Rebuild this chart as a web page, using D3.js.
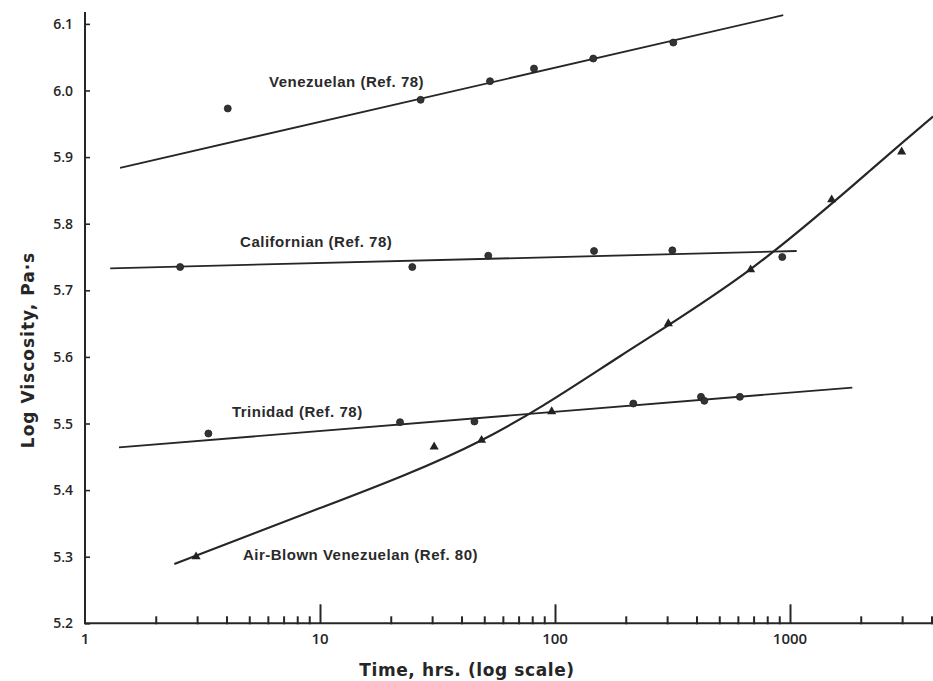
<!DOCTYPE html>
<html><head><meta charset="utf-8">
<script src="https://cdn.jsdelivr.net/npm/d3@7"></script>
<style>
html,body{margin:0;padding:0;background:#fff;}
svg{display:block;}
</style></head>
<body>
<svg id="chart" width="933" height="681"></svg>
<script>
// ---- data ----
const yTicks = [5.2, 5.3, 5.4, 5.5, 5.6, 5.7, 5.8, 5.9, 6.0, 6.1];
const xMajorTicks = [1, 10, 100, 1000];
const xMinorTicks = [2,3,4,5,6,7,8,9,20,30,40,50,60,70,80,90,200,300,400,500,600,700,800,900,2000,3000,4000];

const venezuelanT = [4.05, 26.8, 52.9, 81.4, 145.5, 318.8];
const venezuelanV = [5.973, 5.986, 6.014, 6.033, 6.048, 6.072];
const venezuelanFitT = [1.41, 936];
const venezuelanFitV = [5.884, 6.113];

const californianT = [2.54, 24.7, 52, 146.6, 315.7, 927];
const californianV = [5.735, 5.735, 5.752, 5.759, 5.760, 5.750];
const californianFitT = [1.28, 1067];
const californianFitV = [5.733, 5.759];

const trinidadT = [3.35, 21.9, 45.4, 215.4, 418, 432, 612];
const trinidadV = [5.485, 5.502, 5.503, 5.530, 5.540, 5.534, 5.540];
const trinidadFitT = [1.395, 1841];
const trinidadFitV = [5.464, 5.554];

const airBlownT = [2.97, 30.6, 48.7, 96.8, 303.6, 680, 1504, 2986];
const airBlownV = [5.300, 5.465, 5.475, 5.518, 5.650, 5.731, 5.836, 5.908];
const airBlownCurveT = [2.4, 10, 48.7, 189, 687, 2228, 4064];
const airBlownCurveV = [5.289, 5.373, 5.475, 5.601, 5.733, 5.882, 5.961];

const seriesLabels = [
  {text: "Venezuelan (Ref. 78)", t: 6.07, v: 6.005},
  {text: "Californian (Ref. 78)", t: 4.57, v: 5.765},
  {text: "Trinidad (Ref. 78)", t: 4.22, v: 5.510},
  {text: "Air-Blown Venezuelan (Ref. 80)", t: 4.70, v: 5.295}
];
const xTitle = "Time, hrs. (log scale)";
const yTitle = "Log Viscosity, Pa·s";

// ---- drawing ----
const svg = d3.select("#chart");
const ink = "#262626";
const x0 = 85, yBase = 623.3, yTop = 12, decade = 235;
const x = d3.scaleLog().domain([1, 10000]).range([x0, x0 + 4 * decade]);
const y = d3.scaleLinear().domain([5.2, 6.2]).range([yBase, yBase - 10 * 66.6]);

svg.append("defs").append("clipPath").attr("id", "c")
  .append("rect").attr("x", 0).attr("y", 0).attr("width", 933).attr("height", 681);

// x axis (ticks pointing inward / upward)
const xAxisG = svg.append("g").attr("transform", `translate(0,${yBase})`);
xAxisG.append("line").attr("x1", x0).attr("x2", 933).attr("y1", 0).attr("y2", 0)
  .attr("stroke", ink).attr("stroke-width", 2);
const xMinorAxis = d3.axisTop(x).tickValues(xMinorTicks).tickSize(7).tickFormat("");
const xMajorAxis = d3.axisTop(x).tickValues(xMajorTicks.slice(1)).tickSize(19).tickFormat("");
xAxisG.append("g").call(xMinorAxis).call(g => g.select(".domain").remove())
  .selectAll("line").attr("stroke", ink).attr("stroke-width", 2).attr("y1", 1);
xAxisG.append("g").call(xMajorAxis).call(g => g.select(".domain").remove())
  .selectAll("line").attr("stroke", ink).attr("stroke-width", 2);
// x tick labels
svg.append("g").selectAll("text").data(xMajorTicks).join("text")
  .attr("x", d => x(d)).attr("y", 644)
  .attr("text-anchor", "middle")
  .attr("font-family", "'Open Sans', 'DejaVu Sans', sans-serif")
  .attr("font-size", 15).attr("font-weight", 600).attr("fill", ink)
  .text(d => d3.format("d")(d));

// y axis
const yAxis = d3.axisRight(y).tickValues(yTicks).tickSize(5).tickFormat("");
const yAxisG = svg.append("g").attr("transform", `translate(${x0},0)`).call(yAxis);
yAxisG.select(".domain").remove();
yAxisG.selectAll("line").attr("stroke", ink).attr("stroke-width", 1.6);
yAxisG.append("line").attr("x1", 0).attr("x2", 0).attr("y1", yTop).attr("y2", yBase + 1)
  .attr("stroke", ink).attr("stroke-width", 2);
svg.append("g").selectAll("text").data(yTicks).join("text")
  .attr("x", 73).attr("y", d => y(d)).attr("dy", "0.36em")
  .attr("text-anchor", "end")
  .attr("font-family", "'Open Sans', 'DejaVu Sans', sans-serif")
  .attr("font-size", 14).attr("font-weight", 600).attr("fill", ink)
  .text(d => d3.format(".1f")(d));

// titles
svg.append("text").attr("x", 467).attr("y", 676).attr("text-anchor", "middle")
  .attr("font-family", "'DejaVu Sans', sans-serif").attr("font-weight", "bold")
  .attr("font-size", 17).attr("letter-spacing", 0.6).attr("fill", ink).text(xTitle);
svg.append("text").attr("transform", "translate(34,350) rotate(-90)").attr("text-anchor", "middle")
  .attr("font-family", "'DejaVu Sans', sans-serif").attr("font-weight", "bold")
  .attr("font-size", 17).attr("letter-spacing", 1).attr("fill", ink).text(yTitle);

const plot = svg.append("g").attr("clip-path", "url(#c)");
const line = d3.line().x(d => x(d[0])).y(d => y(d[1]));

function fitLine(ts, vs) {
  plot.append("path").datum(ts.map((t, i) => [t, vs[i]]))
    .attr("d", line).attr("fill", "none").attr("stroke", ink).attr("stroke-width", 1.8);
}
fitLine(venezuelanFitT, venezuelanFitV);
fitLine(californianFitT, californianFitV);
fitLine(trinidadFitT, trinidadFitV);
plot.append("path").datum(airBlownCurveT.map((t, i) => [t, airBlownCurveV[i]]))
  .attr("d", d3.line().x(d => x(d[0])).y(d => y(d[1])).curve(d3.curveNatural))
  .attr("fill", "none").attr("stroke", ink).attr("stroke-width", 2.2);

function circles(ts, vs) {
  plot.append("g").selectAll("circle").data(ts.map((t, i) => [t, vs[i]])).join("circle")
    .attr("cx", d => x(d[0])).attr("cy", d => y(d[1])).attr("r", 3.5)
    .attr("fill", "#333").attr("stroke", "#222").attr("stroke-width", 0.8);
}
circles(venezuelanT, venezuelanV);
circles(californianT, californianV);
circles(trinidadT, trinidadV);

const tri = d3.symbol().type(d3.symbolTriangle).size(36);
plot.append("g").selectAll("path").data(airBlownT.map((t, i) => [t, airBlownV[i]])).join("path")
  .attr("transform", d => `translate(${x(d[0])},${y(d[1])})`)
  .attr("d", tri).attr("fill", "#222");

// series labels
svg.append("g").selectAll("text").data(seriesLabels).join("text")
  .attr("x", d => x(d.t)).attr("y", d => y(d.v))
  .attr("font-family", "'Liberation Sans', Arial, sans-serif").attr("font-weight", "bold")
  .attr("font-size", 15).attr("letter-spacing", 0.5).attr("fill", "#2a2a2a")
  .text(d => d.text);
</script>
</body></html>
